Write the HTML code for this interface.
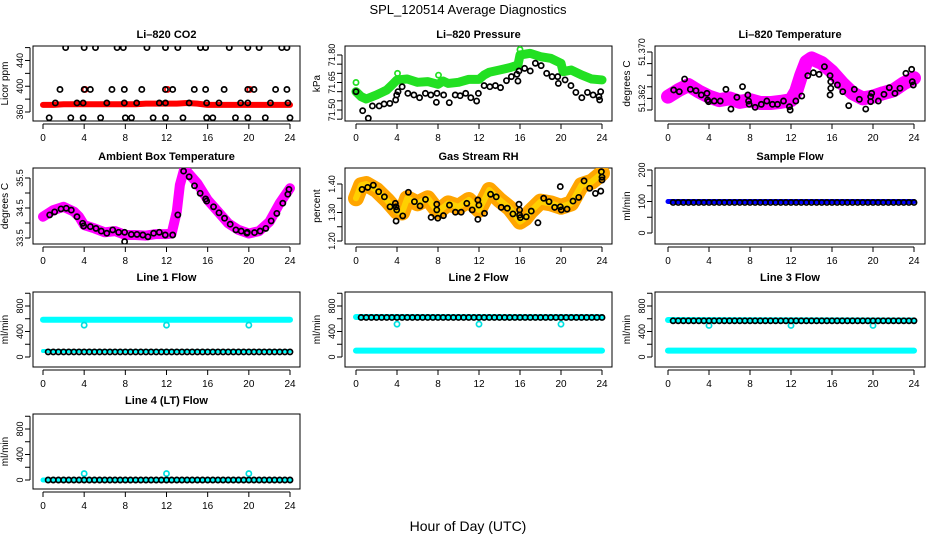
<!DOCTYPE html>
<html><head><meta charset="utf-8">
<style>
html,body{margin:0;padding:0;background:#fff;}
svg{display:block;font-family:"Liberation Sans",Arial,sans-serif;}
</style></head>
<body>
<svg id="chart" width="936" height="540" viewBox="0 0 936 540" xmlns="http://www.w3.org/2000/svg">
<rect width="936" height="540" fill="#fff"/>
<text x="468" y="14" text-anchor="middle" font-size="13">SPL_120514  Average Diagnostics</text>
<text x="468" y="531" text-anchor="middle" font-size="14">Hour of Day (UTC)</text>
</svg>
<script>
const hourTicks=[0,4,8,12,16,20,24];
const flowHours=[0.5,1,1.5,2,2.5,3,3.5,4,4.5,5,5.5,6,6.5,7,7.5,8,8.5,9,9.5,10,10.5,11,11.5,12,12.5,13,13.5,14,14.5,15,15.5,16,16.5,17,17.5,18,18.5,19,19.5,20,20.5,21,21.5,22,22.5,23,23.5,24];
const bandEnds=[0,24];
const dipHours=[4,12,20];

// CO2
const co2RedHours=[0,1,2,3,4,5,6,7,8,9,10,11,12,13,14,15,16,17,18,19,20,21,22,23,24];
const co2RedVals=[371,371,372,372,372,372,372,372,372,372,373,373,373,373,374,373,371,371,371,371,371,371,371,371,371];
const co2RedPtHours=[4.1,12.1,20.1];
const co2RedPtVals=[395,395,395];
const co2BlackHours=[2.2,4.0,5.1,7.2,7.8,10.1,11.9,13.1,15.3,15.8,18.1,19.9,21.0,23.2,23.7,
1.65,4.0,4.6,6.7,7.9,9.6,11.9,12.6,14.7,15.8,17.6,19.9,20.5,22.6,23.7,
1.2,3.3,3.9,6.2,7.9,9.1,11.3,11.9,14.2,15.9,17.1,19.2,19.9,22.1,23.8,
0.6,2.7,3.9,5.6,8.0,8.6,10.7,11.9,13.6,15.9,16.5,18.7,19.9,21.6,24.0];
const co2BlackVals=[460,460,460,460,460,460,460,460,460,460,460,460,460,460,460,
395,395,395,395,395,395,395,395,395,395,395,395,395,395,395,
374,374,374,374,374,374,374,374,374,374,374,374,374,374,374,
351,351,351,351,351,351,351,351,351,351,351,351,351,351,351];

// Pressure
const presGreenHours=[0,0.5,1,2,3,3.5,4,5,6,7,8,8.5,9,10,11,12,12.5,13,14,15,15.8,16,17,18,19,20,20.2,21,22,23,24];
const presGreenVals=[71.600,71.573,71.560,71.582,71.609,71.636,71.664,71.669,71.651,71.655,71.640,71.658,71.645,71.651,71.667,71.667,71.691,71.706,71.718,71.731,71.745,71.800,71.809,71.791,71.782,71.755,71.709,71.718,71.691,71.669,71.664];
const presGreenPtHours=[0,4.05,8.05,16];
const presGreenPtVals=[71.65,71.70,71.69,71.83];
const presBlackHours=[0,0.65,1.2,1.6,2.26,2.74,3.3,3.87,3.97,4.1,4.5,5.06,5.65,6.2,6.77,7.3,7.84,7.9,8.55,9.1,9.68,10.16,10.7,11.2,11.77,11.94,12.5,13.06,13.6,14.1,14.68,15.16,15.7,15.8,15.9,16.45,17.0,17.5,18.06,18.6,19.13,19.68,19.74,20.4,20.97,21.45,22.03,22.58,23.13,23.7,23.77,23.87];
const presBlackVals=[71.600,71.496,71.455,71.522,71.522,71.533,71.536,71.555,71.582,71.600,71.627,71.591,71.582,71.567,71.591,71.582,71.542,71.591,71.582,71.540,71.582,71.578,71.591,71.567,71.549,71.591,71.633,71.627,71.633,71.622,71.660,71.682,71.695,71.658,71.713,71.727,71.713,71.755,71.742,71.700,71.682,71.682,71.645,71.664,71.633,71.596,71.567,71.596,71.582,71.573,71.555,71.600];

// Li-820 temperature
const tempMagHours=[0,1,2,3,4,5,6,7,8,9,10,11,12,12.5,13,13.5,14,15,16,17,18,19,20,21,22,23,24];
const tempMagVals=[51.3623,51.3634,51.3643,51.3632,51.3623,51.3617,51.3620,51.3614,51.3617,51.3612,51.3612,51.3614,51.3617,51.3632,51.3660,51.3683,51.3689,51.3681,51.3666,51.3646,51.3629,51.3620,51.3623,51.3629,51.3634,51.3646,51.3655];
const tempBlackHours=[0.55,1.1,1.62,2.18,2.73,3.25,3.8,3.86,3.96,4.51,5.1,5.65,6.14,6.72,7.27,7.79,7.86,7.92,8.5,9.1,9.64,10.19,10.68,11.27,11.85,11.92,12.47,13.05,13.64,14.19,14.74,15.26,15.81,15.88,15.88,15.81,16.53,17.05,17.63,18.18,18.67,19.29,19.77,19.77,19.87,20.52,21.07,21.59,22.14,22.63,23.21,23.77,23.83,23.93];
const tempBlackVals=[51.36345,51.36316,51.36534,51.36356,51.36333,51.36259,51.36287,51.36172,51.36144,51.36155,51.36155,51.36356,51.36017,51.36218,51.36402,51.36259,51.36155,51.36098,51.36046,51.36098,51.36155,51.36098,51.36098,51.36155,51.36057,51.36000,51.36155,51.36241,51.36592,51.36643,51.36615,51.36747,51.36592,51.36488,51.36374,51.36259,51.36431,51.36316,51.36075,51.36356,51.36184,51.36017,51.36230,51.36144,51.36287,51.36155,51.36270,51.36385,51.36287,51.36374,51.36632,51.36701,51.36488,51.36431];

// Ambient box temperature
const ambMagHours=[0,1,2,3,3.5,4,5,6,7,8,9,10,11,12,12.5,13,13.3,13.7,14,15,16,17,18,19,20,21,22,23,24];
const ambMagVals=[34.21,34.43,34.54,34.38,34.21,33.93,33.82,33.69,33.73,33.60,33.60,33.58,33.63,33.63,33.65,34.38,35.27,35.77,35.71,35.32,34.77,34.38,33.99,33.77,33.65,33.73,34.04,34.66,35.16];
const ambBlackHours=[0.65,1.13,1.75,2.26,2.75,3.3,3.85,3.95,4.6,5.15,5.66,6.2,6.77,7.35,7.93,7.93,8.58,9.13,9.7,10.2,10.75,11.3,11.88,12.6,13.1,13.66,14.2,14.72,15.27,15.8,15.9,16.57,17.1,17.64,18.19,18.74,19.26,19.81,19.85,20.55,21.1,21.65,22.17,22.72,23.3,23.79,23.9];
const ambBlackVals=[34.27,34.37,34.47,34.49,34.43,34.21,33.99,33.90,33.88,33.82,33.73,33.66,33.77,33.69,33.69,33.38,33.62,33.62,33.60,33.54,33.66,33.69,33.60,33.60,34.27,35.73,35.54,35.24,34.99,34.80,34.73,34.54,34.34,34.16,33.96,33.77,33.73,33.66,33.69,33.68,33.73,33.82,34.07,34.32,34.66,34.96,35.12];

// Gas stream RH
const rhBandHours=[0,0.5,1,2,3,4,4.5,5,6,7,8,9,10,11,12,13,14,15,16,16.5,17,18,19,20,21,22,23,24];
const rhBandVals=[1.350,1.396,1.400,1.379,1.344,1.303,1.300,1.350,1.332,1.350,1.303,1.332,1.320,1.344,1.309,1.379,1.344,1.315,1.268,1.280,1.303,1.338,1.332,1.320,1.332,1.396,1.408,1.438];
const rhBlackHours=[0.59,1.14,1.69,2.21,2.77,3.32,3.84,3.91,3.97,3.91,4.56,5.11,5.7,6.25,6.78,7.33,7.88,7.88,7.98,8.53,9.12,9.7,10.26,10.81,11.34,11.89,11.89,11.99,12.54,13.13,13.68,14.17,14.76,15.31,15.9,15.96,15.96,16.03,16.61,17.1,17.75,18.31,18.83,19.38,19.93,19.93,20.03,20.59,21.17,21.73,22.25,22.8,23.36,23.88,23.94,24.0,24.0];
const rhBlackVals=[1.381,1.388,1.396,1.373,1.355,1.320,1.332,1.320,1.309,1.270,1.288,1.371,1.338,1.323,1.346,1.283,1.329,1.309,1.280,1.289,1.326,1.301,1.301,1.332,1.309,1.344,1.276,1.326,1.297,1.364,1.355,1.318,1.315,1.295,1.329,1.309,1.291,1.282,1.285,1.305,1.264,1.350,1.338,1.318,1.320,1.391,1.309,1.312,1.340,1.353,1.411,1.385,1.367,1.375,1.443,1.424,1.414];

// Sample flow
const sampBlueVals=[100,100];
const sampBlackVals=[97,97,97,97,97,97,97,97,97,97,97,97,97,97,97,97,97,97,97,97,97,97,97,97,97,97,97,97,97,97,97,97,97,97,97,97,97,97,97,97,97,97,97,97,97,97,97,97];

// Line flows
const l1CyanHigh=[585,585], l1CyanLow=[95,95], l1Dips=[500,500,500];
const l1Black=[80,80,80,80,80,80,80,80,80,80,80,80,80,80,80,80,80,80,80,80,80,80,80,80,80,80,80,80,80,80,80,80,80,80,80,80,80,80,80,80,80,80,80,80,80,80,80,80];
const l2CyanHigh=[628,625], l2CyanLow=[100,100], l2Dips=[515,515,515];
const l2Black=[620,620,620,620,620,620,620,620,620,620,620,620,620,620,620,620,620,620,620,620,620,620,620,620,620,620,620,620,620,620,620,620,620,620,620,620,620,620,620,620,620,620,620,620,620,620,620,620];
const l3CyanHigh=[580,572], l3CyanLow=[100,100], l3Dips=[495,495,495];
const l3Black=[568,568,568,568,568,568,568,568,568,568,568,568,568,568,568,568,568,568,568,568,568,568,568,568,568,568,568,568,568,568,568,568,568,568,568,568,568,568,568,568,568,568,568,568,568,568,568,568];
const l4CyanBand=[0,0], l4Dips=[100,100,100];
const l4Black=[0,0,0,0,0,0,0,0,0,0,0,0,0,0,0,0,0,0,0,0,0,0,0,0,0,0,0,0,0,0,0,0,0,0,0,0,0,0,0,0,0,0,0,0,0,0,0,0];

const NS='http://www.w3.org/2000/svg';
const svg=document.getElementById('chart');
function mk(tag,attrs,parent){const e=document.createElementNS(NS,tag);for(const k in attrs)e.setAttribute(k,attrs[k]);(parent||svg).appendChild(e);return e;}

const cols=[{b0:33,b1:300,x0:43,x1:290},{b0:345,b1:612,x0:356,x1:602},{b0:655,b1:925,x0:668,x1:914}];
const rows=[{t:46,b:121,ty:38},{t:168,b:244,ty:160},{t:292,b:367,ty:281},{t:414,b:489,ty:404}];

function panel(name,title,ci,ri,yA,pA,yB,pB,yTicks,yLabels,yLabelText,ytitle){
  const c=cols[ci],r=rows[ri];
  const g=mk('g',{});
  
  
  const xs=h=>c.x0+(c.x1-c.x0)*h/24;
  const ys=v=>pA+(v-yA)*(pB-pA)/(yB-yA);
  const tt=mk('text',{x:(c.b0+c.b1)/2,y:r.ty,'text-anchor':'middle','font-size':11,'font-weight':'bold'},g);
  tt.textContent=title;
  
  
  const box=mk('rect',{x:c.b0,y:r.t,width:c.b1-c.b0,height:r.b-r.t,fill:'none',stroke:'#000','stroke-width':1},g);
  
  
  const xa=mk('g',{},g);
  
  
  mk('line',{x1:xs(0),x2:xs(24),y1:r.b+3,y2:r.b+3,stroke:'#000'},xa);
  hourTicks.forEach(h=>{
    mk('line',{x1:xs(h),x2:xs(h),y1:r.b+3,y2:r.b+8,stroke:'#000'},xa);
    const t=mk('text',{x:xs(h),y:r.b+20,'text-anchor':'middle','font-size':10},xa);
    t.textContent=h;
    
    
  });
  const ya=mk('g',{},g);
  
  
  mk('line',{x1:c.b0-3,x2:c.b0-3,y1:ys(yTicks[0]),y2:ys(yTicks[yTicks.length-1]),stroke:'#000'},ya);
  yTicks.forEach(v=>mk('line',{x1:c.b0-8,x2:c.b0-3,y1:ys(v),y2:ys(v),stroke:'#000'},ya));
  yLabels.forEach((v,i)=>{
    const y=ys(v),x=c.b0-13;
    const t=mk('text',{x:x,y:y,'text-anchor':'middle','font-size':9,transform:`rotate(-90 ${x} ${y})`,dy:'0.35em'},ya);
    t.textContent=yLabelText[i];
    
    
  });
  const yt=mk('text',{x:c.b0-25,y:(r.t+r.b)/2,'text-anchor':'middle','font-size':10,transform:`rotate(-90 ${c.b0-25} ${(r.t+r.b)/2})`},g);
  yt.textContent=ytitle;
  
  
  const clipId='clip'+ci+ri;
  const cp=mk('clipPath',{id:clipId},g);
  mk('rect',{x:c.b0,y:r.t,width:c.b1-c.b0,height:r.b-r.t},cp);
  const plot=mk('g',{'clip-path':`url(#${clipId})`},g);
  return {
    band(hours,vals,color,w,label){
      const pl=mk('polyline',{points:hours.map((h,i)=>xs(h)+','+ys(vals[i])).join(' '),fill:'none',stroke:color,'stroke-width':w,'stroke-linejoin':'round','stroke-linecap':'round'},plot);
      
      
    },
    pts(hours,vals,color,label){
      const pg=mk('g',{},plot);
      
      
      hours.forEach((h,i)=>{
        const ci2=mk('circle',{cx:xs(h),cy:ys(vals[i]),r:2.6,fill:'none',stroke:color,'stroke-width':1.7},pg);
        
        
      });
    }
  };
}

let p;
p=panel('co2-panel','Li\u2013820 CO2',0,0,360,112,460,47.6,[360,380,400,420,440,460],[360,400,440],['360','400','440'],'Licor ppm');
p.band(co2RedHours,co2RedVals,'#ff0000',6,'co2-red-series');
p.pts(co2RedPtHours,co2RedPtVals,'#ff0000','co2-red-points');
p.pts(co2BlackHours,co2BlackVals,'#000','co2-black-series');

p=panel('pressure-panel','Li\u2013820 Pressure',1,0,71.50,110,71.80,55,[71.45,71.50,71.55,71.60,71.65,71.70,71.75,71.80],[71.50,71.65,71.80],['71.50','71.65','71.80'],'kPa');
p.band(presGreenHours,presGreenVals,'#22e022',9,'pressure-green-series');
p.pts(presGreenPtHours,presGreenPtVals,'#22e022','pressure-green-points');
p.pts(presBlackHours,presBlackVals,'#000','pressure-black-series');

p=panel('li820-temp-panel','Li\u2013820 Temperature',2,0,51.360,110,51.370,52,[51.360,51.362,51.364,51.366,51.368,51.370],[51.362,51.370],['51.362','51.370'],'degrees C');
p.band(tempMagHours,tempMagVals,'#ff00ff',14,'temp-magenta-series');
p.pts(tempBlackHours,tempBlackVals,'#000','temp-black-series');

p=panel('ambient-temp-panel','Ambient Box Temperature',0,1,33.5,238,35.5,178,[33.5,34.0,34.5,35.0,35.5],[33.5,34.5,35.5],['33.5','34.5','35.5'],'degrees C');
p.band(ambMagHours,ambMagVals,'#ff00ff',10,'ambient-magenta-series');
p.pts(ambBlackHours,ambBlackVals,'#000','ambient-black-series');

p=panel('rh-panel','Gas Stream RH',1,1,1.20,241,1.40,184,[1.20,1.25,1.30,1.35,1.40],[1.20,1.30,1.40],['1.20','1.30','1.40'],'percent');
p.band(rhBandHours,rhBandVals,'#ffa500',16,'rh-orange-series');
p.band(rhBandHours,rhBandVals,'#ffd000',6,'rh-yellow-core');
p.pts(rhBlackHours,rhBlackVals,'#000','rh-black-series');

p=panel('sample-flow-panel','Sample Flow',2,1,0,233,200,170,[0,50,100,150,200],[0,100,200],['0','100','200'],'ml/min');
p.band(bandEnds,sampBlueVals,'#0000ff',5,'sample-blue-series');
p.pts(flowHours,sampBlackVals,'#000','sample-black-series');

const flowTicks=[0,200,400,600,800,1000],flowLab=[0,400,800],flowLabT=['0','400','800'];
p=panel('line1-flow-panel','Line 1 Flow',0,2,0,357,800,306,flowTicks,flowLab,flowLabT,'ml/min');
p.band(bandEnds,l1CyanHigh,'#00ffff',6,'line1-cyan-high');
p.band(bandEnds,l1CyanLow,'#00ffff',4,'line1-cyan-low');
p.pts(dipHours,l1Dips,'#00e0e0','line1-cyan-dips');
p.pts(flowHours,l1Black,'#000','line1-black-series');

p=panel('line2-flow-panel','Line 2 Flow',1,2,0,357,800,306,flowTicks,flowLab,flowLabT,'ml/min');
p.band(bandEnds,l2CyanHigh,'#00ffff',6,'line2-cyan-high');
p.band(bandEnds,l2CyanLow,'#00ffff',6,'line2-cyan-low');
p.pts(dipHours,l2Dips,'#00e0e0','line2-cyan-dips');
p.pts(flowHours,l2Black,'#000','line2-black-series');

p=panel('line3-flow-panel','Line 3 Flow',2,2,0,357,800,306,flowTicks,flowLab,flowLabT,'ml/min');
p.band(bandEnds,l3CyanHigh,'#00ffff',6,'line3-cyan-high');
p.band(bandEnds,l3CyanLow,'#00ffff',6,'line3-cyan-low');
p.pts(dipHours,l3Dips,'#00e0e0','line3-cyan-dips');
p.pts(flowHours,l3Black,'#000','line3-black-series');

p=panel('line4-flow-panel','Line 4 (LT) Flow',0,3,0,480,800,429,flowTicks,flowLab,flowLabT,'ml/min');
p.band(bandEnds,l4CyanBand,'#00ffff',5,'line4-cyan-band');
p.pts(dipHours,l4Dips,'#00e0e0','line4-cyan-dips');
p.pts(flowHours,l4Black,'#000','line4-black-series');
</script>
</body></html>
